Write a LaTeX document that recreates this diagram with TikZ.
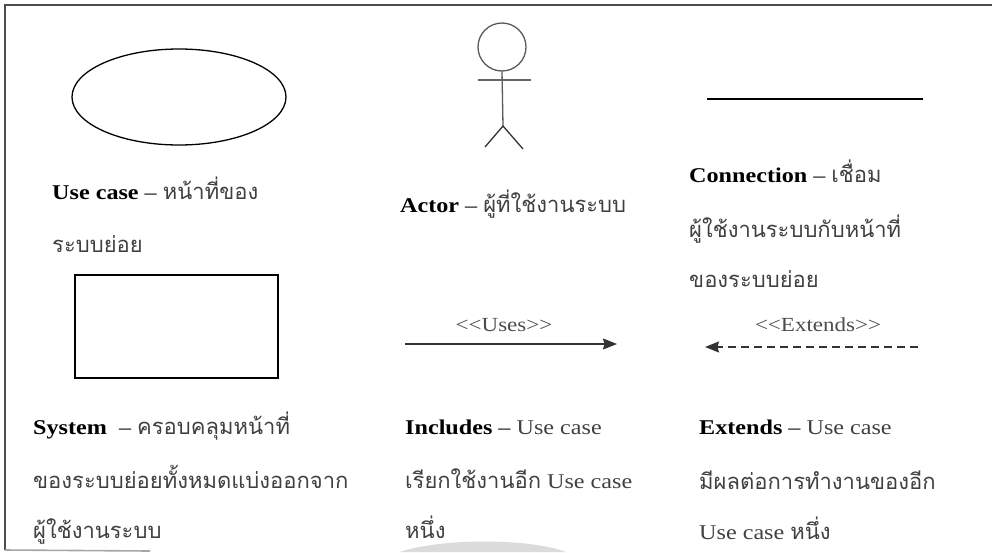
\documentclass[tikz,border=0pt]{standalone}
\usepackage{fontspec}
\setmainfont[FakeStretch=1.15,Ligatures=NoCommon]{Liberation Serif}
\newfontfamily\thaifont[Script=Thai]{Loma}
\usetikzlibrary{shapes,arrows,arrows.meta,positioning}
\tikzstyle{contour} = [draw,line width=1.3pt,inner sep=0]
\tikzstyle{frameline} = [-,line width=1.6pt,black!70]
\tikzstyle{index} = [-,line width=1.3pt,black!80]
\tikzstyle{caption} = [anchor=base west,inner sep=0,font=\fontsize{21}{24}\selectfont]
\tikzstyle{stereo} = [anchor=base,inner sep=0,text=black!70,font=\fontsize{20}{24}\selectfont]
\def \thtext {\thaifont\fontsize{22}{24}\selectfont\color{black!75}}
\def \tipsize {Stealth[length=14pt,width=11pt,inset=1.5pt]}

\begin{document}
\begin{tikzpicture}[x=1pt,y=-1pt]
      \useasboundingbox (0,0) rectangle (992,552);
      % outer frame
      \coordinate (fa) at (5,550);
      \coordinate (fb) at (5,5);
      \coordinate (fc) at (992,5);
      \coordinate (fd) at (150,551);
      \draw[frameline] (fa) -- (fb) -- (fc);
      \draw[frameline,black!35] (fa) -- (fd);
      \fill[black!14] (400,552) .. controls (440,538) and (530,538) .. (566,552);
      % top row
      \node[contour,ellipse,minimum width=214pt,minimum height=96pt] (usecase) at (179,97) {};
      \node[contour,circle,black!65,minimum size=48pt] (head) at (502,47) {};
      \coordinate (armw) at (478,80);
      \coordinate (arme) at (531,80);
      \coordinate (hip) at (503,126);
      \coordinate (legw) at (485,147);
      \coordinate (lege) at (523,149);
      \draw[index,black!65] (head.south) -- (hip);
      \draw[index,black!60] (armw) -- (arme);
      \draw[index] (legw) -- (hip) -- (lege);
      \coordinate (conw) at (707,99);
      \coordinate (cone) at (923,99);
      \draw[index,black] (conw) -- (cone);
      % captions of the top row
      \node[caption] (ucone) at (52,199) {\textbf{Use case} – {\thtext หน้าที่ของ}};
      \node[caption] (uctwo) at (52,252) {\thtext ระบบย่อย};
      \node[caption] (actor) at (400,212) {\textbf{Actor} – {\thtext ผู้ที่ใช้งานระบบ}};
      \node[caption] (conone) at (689,182) {\textbf{Connection} – {\thtext เชื่อม}};
      \node[caption] (contwo) at (689,237) {\thtext ผู้ใช้งานระบบกับหน้าที่};
      \node[caption] (conthree) at (689,287) {\thtext ของระบบย่อย};
      % bottom row
      \node[contour,rectangle,minimum width=203pt,minimum height=103pt] (system) at (176.5,326.5) {};
      \coordinate (usew) at (405,344);
      \coordinate (usee) at (617,344);
      \draw[index,-{\tipsize}] (usew) -- (usee);
      \node[stereo] (uses) at (504,331) {{<}{<}Uses{>}{>}};
      \coordinate (extw) at (705,347);
      \coordinate (exte) at (918,347);
      \draw[index,dashed,dash pattern=on 8pt off 5pt,-{\tipsize}] (exte) -- (extw);
      \node[stereo] (extends) at (818,331) {{<}{<}Extends{>}{>}};
      % captions of the bottom row
      \node[caption] (sysone) at (33,434) {\textbf{System}\ \ – {\thtext ครอบคลุมหน้าที่}};
      \node[caption] (systwo) at (33,488) {\thtext ของระบบย่อยทั้งหมดแบ่งออกจาก};
      \node[caption] (systhree) at (33,538) {\thtext ผู้ใช้งานระบบ};
      \node[caption] (incone) at (405,434) {\textbf{Includes} – \textcolor{black!75}{Use case}};
      \node[caption] (inctwo) at (405,488) {{\thtext เรียกใช้งานอีก} \textcolor{black!75}{Use case}};
      \node[caption] (incthree) at (405,538) {\thtext หนึ่ง};
      \node[caption] (extone) at (699,434) {\textbf{Extends} – \textcolor{black!75}{Use case}};
      \node[caption] (exttwo) at (699,489) {\thtext มีผลต่อการทำงานของอีก};
      \node[caption] (extthree) at (699,539) {\textcolor{black!75}{Use case} {\thtext หนึ่ง}};
    \end{tikzpicture}
\end{document}
